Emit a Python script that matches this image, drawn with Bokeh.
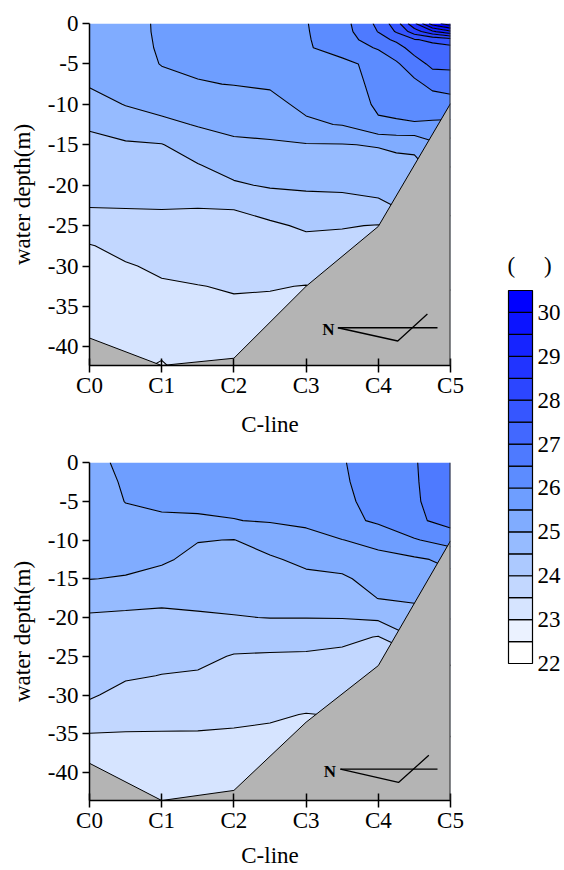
import numpy as np
from bokeh.plotting import figure
from bokeh.layouts import row, column
from bokeh.models import Range1d, FixedTicker, Span
from bokeh.embed import file_html
from bokeh.resources import INLINE
from bokeh.core.properties import value

# ---------------- data ----------------
stations = ["C0", "C1", "C2", "C3", "C4", "C5"]
station_pos = [0, 1, 2, 3, 4, 5]
depth_ticks = [0, -5, -10, -15, -20, -25, -30, -35, -40]

# temperature class boundaries (colour bar) and contour levels
cb_levels = [22.0, 22.5, 23.0, 23.5, 24.0, 24.5, 25.0, 25.5, 26.0, 26.5,
             27.0, 27.5, 28.0, 28.5, 29.0, 29.5, 30.0, 30.5]
cb_ticks = [22, 23, 24, 25, 26, 27, 28, 29, 30]
contour_levels = cb_levels + [31.0]
band_colors = ["#FFFFFF", "#EBF2FF", "#D6E4FF", "#C2D7FF", "#ACC9FF", "#96BBFF",
               "#80ACFF", "#6E9EFF", "#5C8CFF", "#4E7AFF", "#4268FF", "#3656FF",
               "#2C46FF", "#2134FF", "#1624FF", "#0C14FF", "#0000FF"]
extra_color = ["#0000FF"]

# ---- upper section: temperature grid (one list per x position, top -> bottom)
x_top = [0, 0.5, 1, 1.5, 2, 2.5, 3, 3.5, 4, 4.25, 4.5, 4.75, 5]
depth_top = [0, -1, -2, -3, -5, -7.5, -10, -12.5, -15, -17.5, -20, -22.5, -25,
             -27.5, -30, -32.5, -35, -37.5, -40, -42.5, -45]
temp_top = [
    [25.40, 25.35, 25.30, 25.25, 25.16, 25.04, 24.81, 24.55, 24.40, 24.28, 24.15, 24.03, 23.74, 23.48, 23.43, 23.37, 23.32, 23.26, 23.21, 23.15, 23.10],
    [25.32, 25.31, 25.30, 25.29, 25.26, 25.17, 25.02, 24.71, 24.45, 24.31, 24.17, 24.03, 23.83, 23.61, 23.47, 23.41, 23.35, 23.28, 23.22, 23.10, 23.02],
    [25.58, 25.58, 25.57, 25.56, 25.52, 25.34, 25.15, 24.89, 24.48, 24.33, 24.18, 24.03, 23.88, 23.72, 23.56, 23.46, 23.39, 23.31, 23.10, 22.95, 22.90],
    [25.65, 25.63, 25.61, 25.60, 25.56, 25.48, 25.25, 25.03, 24.76, 24.48, 24.25, 24.02, 23.88, 23.75, 23.62, 23.49, 23.42, 23.34, 23.27, 23.19, 23.10],
    [25.70, 25.68, 25.65, 25.63, 25.58, 25.51, 25.34, 25.13, 24.91, 24.69, 24.44, 24.03, 23.89, 23.77, 23.65, 23.53, 23.45, 23.37, 23.30, 23.22, 23.15],
    [25.75, 25.72, 25.70, 25.67, 25.61, 25.54, 25.40, 25.17, 24.94, 24.75, 24.55, 24.20, 23.93, 23.80, 23.66, 23.52, 23.44, 23.37, 23.30, 23.22, 23.15],
    [25.98, 25.97, 25.96, 25.95, 25.82, 25.70, 25.58, 25.44, 24.97, 24.77, 24.57, 24.33, 24.06, 23.86, 23.67, 23.49, 23.40, 23.35, 23.30, 23.25, 23.20],
    [26.30, 26.28, 26.25, 26.20, 25.88, 25.80, 25.68, 25.52, 24.98, 24.79, 24.59, 24.34, 24.03, 23.85, 23.70, 23.60, 23.52, 23.45, 23.40, 23.35, 23.30],
    [27.12, 27.02, 26.80, 26.55, 26.15, 26.12, 26.08, 25.93, 25.03, 24.83, 24.64, 24.42, 23.98, 23.80, 23.70, 23.60, 23.52, 23.40, 23.30, 23.20, 23.10],
    [27.77, 27.55, 27.10, 26.79, 26.44, 26.28, 26.12, 25.95, 25.10, 24.85, 24.65, 24.52, 24.20, 24.02, 23.90, 23.80, 23.70, 23.60, 23.52, 23.40, 23.30],
    [28.90, 28.25, 27.47, 27.23, 26.76, 26.39, 26.17, 25.97, 25.10, 24.90, 24.70, 24.52, 24.30, 24.10, 24.02, 23.90, 23.80, 23.70, 23.60, 23.52, 23.40],
    [30.25, 28.90, 27.58, 27.38, 27.13, 26.62, 26.26, 25.93, 25.40, 25.10, 24.90, 24.70, 24.50, 24.30, 24.20, 24.10, 24.02, 23.90, 23.80, 23.70, 23.60],
    [30.80, 29.40, 27.75, 27.39, 27.13, 26.70, 26.30, 25.90, 25.30, 25.02, 24.80, 24.60, 24.40, 24.20, 24.10, 24.02, 23.90, 23.80, 23.70, 23.60, 23.52],
]
seabed_top = [-38.9, -42.3, -41.4, -32.5, -25.1, -9.9]
north_top_h_x = [3.44, 4.82]
north_top_h_y = [-37.63, -37.63]
north_top_v_x = [3.44, 4.27, 4.68]
north_top_v_y = [-37.63, -39.27, -35.93]
north_top_label = (3.31, -37.8)

# ---- lower section
x_bot = [0, 0.5, 1, 1.5, 2, 2.5, 3, 3.5, 4, 4.5, 5]
depth_bot = [0, -2.5, -5, -7.5, -10, -12.5, -15, -17.5, -20, -22.5, -25, -27.5,
             -30, -32.5, -35, -37.5, -40, -42.5, -45]
temp_bot = [
    [25.42, 25.35, 25.28, 25.21, 25.14, 25.07, 25.01, 24.66, 24.45, 24.35, 24.25, 24.15, 24.05, 23.83, 23.49, 23.42, 23.34, 23.27, 23.20],
    [25.56, 25.54, 25.51, 25.40, 25.26, 25.13, 24.97, 24.64, 24.42, 24.30, 24.17, 24.05, 23.87, 23.66, 23.48, 23.41, 23.34, 23.27, 23.20],
    [25.65, 25.60, 25.55, 25.46, 25.27, 25.07, 24.84, 24.59, 24.41, 24.27, 24.13, 23.99, 23.81, 23.63, 23.48, 23.41, 23.34, 23.27, 23.20],
    [25.70, 25.63, 25.57, 25.46, 25.02, 24.87, 24.73, 24.60, 24.45, 24.29, 24.12, 23.95, 23.78, 23.61, 23.48, 23.41, 23.34, 23.27, 23.20],
    [25.75, 25.67, 25.58, 25.49, 24.99, 24.86, 24.74, 24.62, 24.48, 24.22, 23.97, 23.84, 23.70, 23.57, 23.47, 23.40, 23.33, 23.26, 23.20],
    [25.80, 25.72, 25.62, 25.53, 25.21, 24.94, 24.79, 24.65, 24.51, 24.20, 23.95, 23.82, 23.68, 23.54, 23.45, 23.40, 23.35, 23.30, 23.25],
    [25.85, 25.76, 25.66, 25.56, 25.40, 25.11, 24.89, 24.69, 24.51, 24.18, 23.94, 23.79, 23.65, 23.49, 23.45, 23.40, 23.35, 23.30, 23.25],
    [25.96, 25.93, 25.89, 25.85, 25.49, 25.20, 24.93, 24.73, 24.52, 24.11, 23.90, 23.75, 23.60, 23.52, 23.45, 23.40, 23.35, 23.30, 23.25],
    [26.30, 26.25, 26.18, 26.08, 25.65, 25.36, 25.18, 25.01, 24.60, 23.98, 23.85, 23.70, 23.60, 23.52, 23.45, 23.40, 23.35, 23.30, 23.25],
    [26.46, 26.45, 26.44, 26.40, 25.96, 25.43, 25.25, 25.07, 24.80, 24.52, 23.90, 23.85, 23.80, 23.75, 23.70, 23.65, 23.60, 23.55, 23.52],
    [26.90, 26.85, 26.78, 26.68, 26.21, 25.60, 25.40, 25.20, 25.02, 24.80, 24.60, 24.40, 24.20, 24.10, 24.02, 23.90, 23.80, 23.70, 23.60],
]
seabed_bot = [-38.8, -43.6, -42.3, -33.5, -26.2, -10.1]
north_bot_h_x = [3.475, 4.82]
north_bot_h_y = [-39.56, -39.56]
north_bot_v_x = [3.475, 4.28, 4.70]
north_bot_v_y = [-39.56, -41.27, -37.77]
north_bot_label = (3.33, -39.9)

# ---------------- styling ----------------
SERIF = "Liberation Serif"
FS = "23px"
SEABED = "#B4B4B4"


def make_panel(x, depth, temp, seabed, y_low, nh_x, nh_y, nv_x, nv_y, nlab,
               height, b_left, b_right, b_top, b_bottom, title_standoff):
    p = figure(width=470, height=height,
               x_range=Range1d(0, 5), y_range=Range1d(y_low, 0),
               output_backend="svg", toolbar_location=None,
               min_border_left=b_left, min_border_right=b_right,
               min_border_top=b_top, min_border_bottom=b_bottom)
    p.outline_line_color = None
    p.grid.visible = False
    p.background_fill_color = "white"

    z = np.array(temp).T
    p.contour(np.array(x), np.array(depth), z, levels=contour_levels,
              fill_color=band_colors + extra_color,
              line_color="black", line_width=1.1)

    p.varea(x=station_pos, y1=seabed, y2=y_low - 10, fill_color=SEABED)
    p.line(x=station_pos, y=seabed, line_color="black", line_width=1)

    # north arrow
    p.line(x=nh_x, y=nh_y, line_color="black", line_width=1.3)
    p.line(x=nv_x, y=nv_y, line_color="black", line_width=1.3)
    p.text(x=[nlab[0]], y=[nlab[1]], text=["N"], text_font=value(SERIF),
           text_font_size="17px", text_font_style="bold",
           text_align="center", text_baseline="middle", text_color="black")

    p.add_layout(Span(location=5, dimension="height", line_color="#2a2a2a",
                      line_width=2))

    p.xaxis.ticker = FixedTicker(ticks=station_pos)
    p.xaxis.major_label_overrides = {i: s for i, s in zip(station_pos, stations)}
    p.yaxis.ticker = FixedTicker(ticks=depth_ticks)
    p.yaxis.major_label_overrides = {t: str(t) for t in depth_ticks}

    for ax in (p.xaxis[0], p.yaxis[0]):
        ax.axis_line_color = "black"
        ax.axis_line_width = 1.5
        ax.major_tick_line_color = "black"
        ax.major_tick_line_width = 1.5
        ax.minor_tick_line_color = None
        ax.major_label_text_font = SERIF
        ax.major_label_text_font_size = FS
        ax.major_label_text_color = "black"
        ax.axis_label_text_font = SERIF
        ax.axis_label_text_font_size = FS
        ax.axis_label_text_font_style = "normal"
        ax.axis_label_text_color = "black"
    p.xaxis.major_tick_in = 7
    p.xaxis.major_tick_out = 7
    p.xaxis.major_label_standoff = 0
    p.xaxis.axis_label = "C-line"
    p.xaxis.axis_label_standoff = title_standoff
    p.yaxis.major_tick_in = 0
    p.yaxis.major_tick_out = 7
    p.yaxis.major_label_standoff = 4
    p.yaxis.axis_label = "water depth(m)"
    p.yaxis.axis_label_standoff = 10
    return p


p1 = make_panel(x_top, depth_top, temp_top, seabed_top, -42.3,
                north_top_h_x, north_top_h_y, north_top_v_x, north_top_v_y,
                north_top_label, height=445, b_left=87, b_right=20,
                b_top=23, b_bottom=80, title_standoff=11)
p2 = make_panel(x_bot, depth_bot, temp_bot, seabed_bot, -43.6,
                north_bot_h_x, north_bot_h_y, north_bot_v_x, north_bot_v_y,
                north_bot_label, height=425, b_left=89, b_right=20,
                b_top=17, b_bottom=67, title_standoff=7)

# ---------------- colour bar ----------------
cb = figure(width=94, height=870, x_range=Range1d(0, 94),
            y_range=Range1d(17.283, 37.109), output_backend="svg",
            toolbar_location=None, x_axis_type=None, y_axis_type=None,
            min_border_left=0, min_border_right=0, min_border_top=0,
            min_border_bottom=0)
cb.outline_line_color = None
cb.grid.visible = False
cb.quad(left=38, right=62, bottom=cb_levels[:-1], top=cb_levels[1:],
        fill_color=band_colors, line_color="black", line_width=1.2)
cb.text(x=[67] * len(cb_ticks), y=cb_ticks, text=[str(t) for t in cb_ticks],
        text_font=value(SERIF), text_font_size=FS, text_align="left",
        text_baseline="middle", text_color="black")
cb.text(x=[59], y=[31.07], text=["(\u00a0\u00a0\u00a0\u00a0\u00a0)"],
        text_font=value(SERIF), text_font_size=FS, text_align="center",
        text_baseline="middle", text_color="black")

layout = row(column(p1, p2), cb)
open("out.html", "w").write(file_html(layout, INLINE))
